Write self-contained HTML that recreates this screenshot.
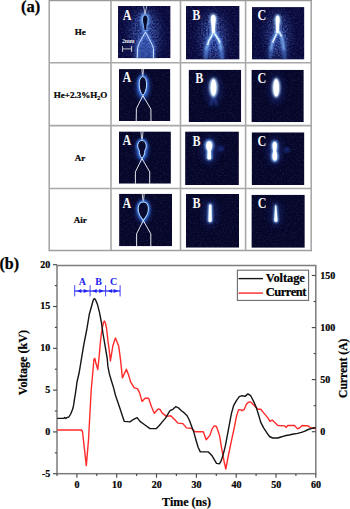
<!DOCTYPE html>
<html><head><meta charset="utf-8"><style>
html,body{margin:0;padding:0;background:#fff;width:350px;height:509px;overflow:hidden}
svg{display:block}
text{font-family:"Liberation Serif", serif;font-weight:bold}
</style></head><body>
<svg width="350" height="509" viewBox="0 0 350 509">
<defs>
<filter id="bh" x="-50%" y="-50%" width="200%" height="200%"><feGaussianBlur stdDeviation="0.5"/></filter>
<filter id="b1" x="-50%" y="-50%" width="200%" height="200%"><feGaussianBlur stdDeviation="1"/></filter>
<filter id="b2" x="-50%" y="-50%" width="200%" height="200%"><feGaussianBlur stdDeviation="2"/></filter>
<filter id="b3" x="-50%" y="-50%" width="200%" height="200%"><feGaussianBlur stdDeviation="3.5"/></filter>
<filter id="nz" x="0" y="0" width="100%" height="100%">
 <feTurbulence type="fractalNoise" baseFrequency="0.65" numOctaves="2" seed="7"/>
 <feColorMatrix type="matrix" values="0 0 0 0 0.18  0 0 0 0 0.26  0 0 0 0 0.8  3.2 0 0 0 -1.5"/>
</filter>
<filter id="nz2" x="0" y="0" width="100%" height="100%">
 <feTurbulence type="fractalNoise" baseFrequency="0.6" numOctaves="2" seed="11"/>
 <feColorMatrix type="matrix" values="0 0 0 0 0.3  0 0 0 0 0.45  0 0 0 0 1  2.6 0 0 0 -0.9"/>
</filter>
<filter id="b5" x="-80%" y="-80%" width="260%" height="260%"><feGaussianBlur stdDeviation="6"/></filter>
</defs>
<rect width="350" height="509" fill="#fff"/>

<text x="21" y="12.3" font-size="16.5" stroke="#000" stroke-width="0.25">(a)</text>
<g stroke="#a8a8a8" stroke-width="1.6" fill="none">
<line x1="49" y1="62.8" x2="311.5" y2="62.8"/>
<line x1="49" y1="125.6" x2="311.5" y2="125.6"/>
<line x1="49" y1="188.5" x2="311.5" y2="188.5"/>
<line x1="111" y1="0" x2="111" y2="250.5"/>
<line x1="180.5" y1="0" x2="180.5" y2="250.5"/>
<line x1="245.6" y1="0" x2="245.6" y2="250.5"/>
<line x1="49.2" y1="0" x2="49.2" y2="251.2"/>
<line x1="311.2" y1="0" x2="311.2" y2="251.2"/>
<line x1="49" y1="0.5" x2="312" y2="0.5" stroke="#999"/>
<line x1="49" y1="250.5" x2="312" y2="250.5" stroke="#a0a0a0" stroke-width="1.4"/>
</g>
<g font-size="9" text-anchor="middle" fill="#000" stroke="#000" stroke-width="0.22">
<text x="80.3" y="35.2">He</text>
<text x="80.5" y="97.8">He+2.3%H<tspan font-size="6" dy="1.8">2</tspan><tspan dy="-1.8">O</tspan></text>
<text x="79.9" y="160.5">Ar</text>
<text x="80.3" y="223.2">Air</text>
</g>
<clipPath id="c118_6"><rect x="118" y="6" width="52.599999999999994" height="52.2"/></clipPath>
<g clip-path="url(#c118_6)"><rect x="118" y="6" width="52.599999999999994" height="52.2" fill="#09093a"/>
<rect x="118" y="6" width="52.599999999999994" height="52.2" filter="url(#nz)" opacity="0.2"/>
<mask id="m118_6"><ellipse cx="145" cy="36" rx="11" ry="24" fill="#fff" filter="url(#b5)"/></mask>
<g mask="url(#m118_6)"><rect x="118" y="6" width="52.599999999999994" height="52.2" filter="url(#nz2)" opacity="1.0"/></g>

<ellipse cx="145" cy="36" rx="13" ry="26" fill="#1e3590" opacity="0.55" filter="url(#b5)"/>
<path d="M145,12 L145,32 L139,44 L137.5,48 L137,59 L153.5,59 L153.5,48 L152,44 L145.5,32" fill="#3a64c0" opacity="0.55" filter="url(#b2)"/>
<path d="M137.5,59 L137.5,48 L139,43.5 L145.5,32 L152,44 L153.5,48.5 L153.5,59" stroke="#6fa0ff" stroke-width="3.2" fill="none" opacity="0.55" filter="url(#b1)"/>
<path d="M145,13.5 C139.8,13.5 139.8,22 142.5,25 L143.2,32 L147.4,32 L147.8,25 C150.3,22 150.3,13.5 145,13.5 Z" fill="#4a80e0" filter="url(#b2)"/>
<path d="M145,14 C140.5,14 140.5,22 143,25 L143.8,31 L146.8,31 L147.2,25 C149.5,22 149.5,14 145,14 Z" fill="#8cc0ff" filter="url(#b1)"/>
<path d="M145.2,15.5 C142.5,15.5 142.6,21 143.8,24.5 L144.5,30 L146.2,30 L146.6,24.5 C148,21 148,15.5 145.2,15.5 Z" fill="#0a0c2c"/>
<path d="M143.4,5 L145,14 L146.9,5" stroke="#e8eef8" stroke-width="0.7" fill="none"/>
<path d="M137.2,59 L137.6,48 L139.1,43.3 L145.5,32 L151.9,44.2 L153.5,48.5 L153.5,59" stroke="#d8e8ff" stroke-width="0.9" fill="none"/>
<text x="121.9" y="43" font-size="6" fill="#e8e8e8" letter-spacing="-0.15">2mm</text>
<path d="M122.6,46 L122.6,52 M122.6,48.9 L131.6,48.9 M131.6,46 L131.6,52" stroke="#d8d8d8" stroke-width="0.9"/>

<text transform="translate(122.8,20.1) scale(0.89,1)" font-size="13.6" fill="#f6f6f6">A</text>
</g>
<clipPath id="c186_6"><rect x="186" y="6" width="53.599999999999994" height="53.6"/></clipPath>
<g clip-path="url(#c186_6)"><rect x="186" y="6" width="53.599999999999994" height="53.6" fill="#09093a"/>
<rect x="186" y="6" width="53.599999999999994" height="53.6" filter="url(#nz)" opacity="0.2"/>
<mask id="m186_6"><ellipse cx="213" cy="37" rx="10" ry="23" fill="#fff" filter="url(#b5)"/></mask>
<g mask="url(#m186_6)"><rect x="186" y="6" width="53.599999999999994" height="53.6" filter="url(#nz2)" opacity="0.8"/></g>

<ellipse cx="213" cy="36" rx="10" ry="22" fill="#2440a8" opacity="0.45" filter="url(#b5)"/>
<path d="M213,33 L208.5,41 L205.9,57 M214.5,33 L219.5,41 L221.9,59" stroke="#3f70d8" stroke-width="5" fill="none" opacity="0.6" filter="url(#b2)"/>
<path d="M213,33 L208.5,41 L206.2,50 M214.5,33 L219.5,41 L221.2,50" stroke="#8cc0ff" stroke-width="2.6" fill="none" filter="url(#b1)"/>
<path d="M206.4,49 L205.2,60 M221,49 L222.4,60" stroke="#6a9cf0" stroke-width="2.2" fill="none" opacity="0.7" filter="url(#b1)"/>
<path d="M213.2,33 L208.8,41 L207.6,45 M214.3,33 L219,40.5 L219.8,43" stroke="#e8f4ff" stroke-width="1.5" fill="none" filter="url(#bh)"/>
<path d="M213.3,13.8 C209.2,13.8 209.4,20 210.4,24 L211.2,34 L215.6,34 L216.2,24 C217.4,20 217.4,13.8 213.3,13.8 Z" fill="#9cccff" filter="url(#b1)"/>
<path d="M213.3,14.8 C210.5,14.8 210.6,20 211.4,24 L212,33 L214.8,33 L215.2,24 C216.1,20 216.1,14.8 213.3,14.8 Z" fill="#ffffff" filter="url(#bh)"/>

<text transform="translate(192.2,20.3) scale(0.89,1)" font-size="13.6" fill="#f6f6f6">B</text>
</g>
<clipPath id="c252_7"><rect x="252" y="7.1" width="52.39999999999998" height="52.5"/></clipPath>
<g clip-path="url(#c252_7)"><rect x="252" y="7.1" width="52.39999999999998" height="52.5" fill="#09093a"/>
<rect x="252" y="7.1" width="52.39999999999998" height="52.5" filter="url(#nz)" opacity="0.2"/>
<mask id="m252_7"><ellipse cx="278" cy="36" rx="9" ry="22" fill="#fff" filter="url(#b5)"/></mask>
<g mask="url(#m252_7)"><rect x="252" y="7.1" width="52.39999999999998" height="52.5" filter="url(#nz2)" opacity="0.7"/></g>

<ellipse cx="278" cy="34" rx="8" ry="20" fill="#2440a8" opacity="0.4" filter="url(#b5)"/>
<path d="M276.5,33 L272.5,41.4 L270.4,57 M279,31 L281.9,37.2 L285,59" stroke="#3f70d8" stroke-width="4.5" fill="none" opacity="0.5" filter="url(#b2)"/>
<path d="M276.5,33 L272.5,41.4 L270.8,50 M279,31 L281.9,37.2 L284,50" stroke="#8cc0ff" stroke-width="2.2" fill="none" filter="url(#b1)"/>
<path d="M270.9,49 L270,60 M283.8,49 L285.2,60" stroke="#6a9cf0" stroke-width="1.8" fill="none" opacity="0.55" filter="url(#b1)"/>
<path d="M276.8,33.5 L272.6,42.5 M279,31.5 L281.5,36.5" stroke="#e8f4ff" stroke-width="1.5" fill="none" filter="url(#bh)"/>
<path d="M277.7,14.5 C274,14.5 274.3,21 275,25 L275.2,34 L279.6,34 L280,25 C281.2,21 281.4,14.5 277.7,14.5 Z" fill="#9cccff" filter="url(#b1)"/>
<path d="M277.7,15.5 C275.3,15.5 275.5,21 276,25 L276.2,33 L278.8,33 L279.1,25 C280,21 280,15.5 277.7,15.5 Z" fill="#ffffff" filter="url(#bh)"/>

<text transform="translate(257.5,20.3) scale(0.89,1)" font-size="13.6" fill="#f6f6f6">C</text>
</g>
<clipPath id="c119_69"><rect x="119" y="69.1" width="51.400000000000006" height="51.900000000000006"/></clipPath>
<g clip-path="url(#c119_69)"><rect x="119" y="69.1" width="51.400000000000006" height="51.900000000000006" fill="#060628"/>
<rect x="119" y="69.1" width="51.400000000000006" height="51.900000000000006" filter="url(#nz)" opacity="0.13"/>

<ellipse cx="143" cy="87" rx="7" ry="13" fill="#2a56c0" opacity="0.7" filter="url(#b2)"/>
<path d="M141.2,62 L142.6,76.6 M143.9,62 L142.9,76.6" stroke="#eef2f8" stroke-width="0.85" fill="none"/>
<path d="M142.8,76.6 C137.5,77 138.5,92 142.9,95.3 C147.3,92 148.3,77 142.8,76.6 Z" stroke="#3f7ff0" stroke-width="3.2" fill="none" filter="url(#b1)"/>
<path d="M142.8,76.6 C137.5,77 138.5,92 142.9,95.3 C147.3,92 148.3,77 142.8,76.6 Z" stroke="#bfe0ff" stroke-width="1" fill="#090b30"/>
<path d="M142.9,95.6 L136.4,108.5 L136.2,122 M142.9,95.6 L150.9,109.1 L151,122" stroke="#eef2f8" stroke-width="0.95" fill="none"/>

<text transform="translate(122.5,82.4) scale(0.89,1)" font-size="13.6" fill="#f6f6f6">A</text>
</g>
<clipPath id="c188_69"><rect x="188.6" y="69.7" width="52.599999999999994" height="52.39999999999999"/></clipPath>
<g clip-path="url(#c188_69)"><rect x="188.6" y="69.7" width="52.599999999999994" height="52.39999999999999" fill="#060628"/>
<rect x="188.6" y="69.7" width="52.599999999999994" height="52.39999999999999" filter="url(#nz)" opacity="0.13"/>

<ellipse cx="213.5" cy="90" rx="7" ry="14" fill="#2545b0" opacity="0.5" filter="url(#b3)"/>
<path d="M213,97 L210,106 M214,97 L217,106" stroke="#3a60c8" stroke-width="1.6" opacity="0.55" filter="url(#b1)"/>
<ellipse cx="213.5" cy="87.5" rx="4.3" ry="9.8" fill="#bfe0ff" filter="url(#b1)"/>
<ellipse cx="213.5" cy="87.5" rx="2.8" ry="8.2" fill="#ffffff"/>

<text transform="translate(195.3,82.6) scale(0.89,1)" font-size="13.6" fill="#f6f6f6">B</text>
</g>
<clipPath id="c251_69"><rect x="251.4" y="69.8" width="52.400000000000006" height="52.400000000000006"/></clipPath>
<g clip-path="url(#c251_69)"><rect x="251.4" y="69.8" width="52.400000000000006" height="52.400000000000006" fill="#060628"/>
<rect x="251.4" y="69.8" width="52.400000000000006" height="52.400000000000006" filter="url(#nz)" opacity="0.13"/>

<ellipse cx="276.2" cy="89" rx="6" ry="14" fill="#2545b0" opacity="0.5" filter="url(#b3)"/>
<ellipse cx="276.2" cy="87.7" rx="4" ry="10" fill="#c8e6ff" filter="url(#b1)"/>
<ellipse cx="276.2" cy="87.7" rx="2.8" ry="8.8" fill="#ffffff"/>

<text transform="translate(257.5,82.6) scale(0.89,1)" font-size="13.6" fill="#f6f6f6">C</text>
</g>
<clipPath id="c119_131"><rect x="119" y="131.4" width="51.900000000000006" height="52.29999999999998"/></clipPath>
<g clip-path="url(#c119_131)"><rect x="119" y="131.4" width="51.900000000000006" height="52.29999999999998" fill="#060628"/>
<rect x="119" y="131.4" width="51.900000000000006" height="52.29999999999998" filter="url(#nz)" opacity="0.13"/>

<ellipse cx="142" cy="150" rx="6.5" ry="11" fill="#2a56c0" opacity="0.7" filter="url(#b2)"/>
<path d="M140.3,125 L141.8,140.5 M143.6,125 L142.2,140.5" stroke="#eef2f8" stroke-width="0.85" fill="none"/>
<path d="M141.9,140.5 C137.5,140.5 136.5,147 139.3,150.5 C139,153.5 140.5,157 142,158.2 C143.5,157 145,153.5 144.8,150.5 C147.5,147 146.3,140.5 141.9,140.5 Z" stroke="#3f7ff0" stroke-width="3" fill="none" filter="url(#b1)"/>
<path d="M141.9,140.5 C137.5,140.5 136.5,147 139.3,150.5 C139,153.5 140.5,157 142,158.2 C143.5,157 145,153.5 144.8,150.5 C147.5,147 146.3,140.5 141.9,140.5 Z" stroke="#bfe0ff" stroke-width="1" fill="#090b30"/>
<path d="M142,158.5 L135.4,171.9 L135.4,185 M142,158.5 L149.7,171.9 L149.7,185" stroke="#eef2f8" stroke-width="0.95" fill="none"/>

<text transform="translate(122.5,145.2) scale(0.89,1)" font-size="13.6" fill="#f6f6f6">A</text>
</g>
<clipPath id="c185_131"><rect x="185.1" y="131.4" width="53.80000000000001" height="53.69999999999999"/></clipPath>
<g clip-path="url(#c185_131)"><rect x="185.1" y="131.4" width="53.80000000000001" height="53.69999999999999" fill="#060628"/>
<rect x="185.1" y="131.4" width="53.80000000000001" height="53.69999999999999" filter="url(#nz)" opacity="0.13"/>

<ellipse cx="209.2" cy="150" rx="7" ry="13" fill="#2545b0" opacity="0.55" filter="url(#b3)"/>
<ellipse cx="221" cy="148.7" rx="3" ry="3" fill="#2545b0" opacity="0.5" filter="url(#b1)"/>
<path d="M209.2,139.8 C203.8,139.8 203.8,147.5 206.6,150.9 L206.2,158 C206.5,161.2 212,161.2 212.3,158 L211.8,150.9 C214.6,147.5 214.6,139.8 209.2,139.8 Z" fill="#7fb6ff" filter="url(#b1)"/>
<path d="M209.2,141.2 C205.4,141.2 205.4,147.5 207.6,150.7 L207.3,158 C207.6,160 210.9,160 211.2,158 L210.8,150.7 C213,147.5 213,141.2 209.2,141.2 Z" fill="#ffffff" filter="url(#bh)"/>

<text transform="translate(192.5,145.5) scale(0.89,1)" font-size="13.6" fill="#f6f6f6">B</text>
</g>
<clipPath id="c251_132"><rect x="251.6" y="132.3" width="52.79999999999998" height="52.79999999999998"/></clipPath>
<g clip-path="url(#c251_132)"><rect x="251.6" y="132.3" width="52.79999999999998" height="52.79999999999998" fill="#060628"/>
<rect x="251.6" y="132.3" width="52.79999999999998" height="52.79999999999998" filter="url(#nz)" opacity="0.13"/>

<ellipse cx="274.7" cy="151" rx="6.5" ry="13" fill="#2545b0" opacity="0.5" filter="url(#b3)"/>
<ellipse cx="287" cy="149.7" rx="3" ry="3" fill="#2545b0" opacity="0.45" filter="url(#b1)"/>
<path d="M274.7,140.4 C270.6,140.4 270.8,147 272.2,151.2 C270.3,154.5 270.5,162.2 274.9,162.2 C279.3,162.2 279.3,154.5 277.3,151.2 C278.7,147 278.8,140.4 274.7,140.4 Z" fill="#7fb6ff" filter="url(#b1)"/>
<path d="M274.7,141.8 C272,141.8 272.2,147 273.3,151.2 C271.8,154.5 272.1,160.8 274.9,160.8 C277.7,160.8 277.9,154.5 276.2,151.2 C277.3,147 277.4,141.8 274.7,141.8 Z" fill="#ffffff" filter="url(#bh)"/>

<text transform="translate(257.5,145.7) scale(0.89,1)" font-size="13.6" fill="#f6f6f6">C</text>
</g>
<clipPath id="c119_193"><rect x="119.1" y="193.7" width="52.900000000000006" height="52.60000000000002"/></clipPath>
<g clip-path="url(#c119_193)"><rect x="119.1" y="193.7" width="52.900000000000006" height="52.60000000000002" fill="#060628"/>
<rect x="119.1" y="193.7" width="52.900000000000006" height="52.60000000000002" filter="url(#nz)" opacity="0.13"/>

<ellipse cx="143.3" cy="211" rx="8" ry="12" fill="#2a56c0" opacity="0.5" filter="url(#b2)"/>
<path d="M141.6,188 L143.1,202 M144.6,188 L143.5,202" stroke="#eef2f8" stroke-width="0.85" fill="none"/>
<path d="M143.3,202 C138.3,202 137.6,208 138.4,211.5 C139.1,214.8 140.8,217.3 142,218.6 L143.3,220.3 L144.6,218.6 C145.8,217.3 147.5,214.8 148.2,211.5 C149,208 148.3,202 143.3,202 Z" stroke="#3f7ff0" stroke-width="3" fill="none" filter="url(#b1)"/>
<path d="M143.3,202 C138.3,202 137.6,208 138.4,211.5 C139.1,214.8 140.8,217.3 142,218.6 L143.3,220.3 L144.6,218.6 C145.8,217.3 147.5,214.8 148.2,211.5 C149,208 148.3,202 143.3,202 Z" stroke="#a8d4ff" stroke-width="1.1" fill="#090b30"/>
<path d="M143.3,220.5 L136.6,233.9 L136.6,247 M143.3,220.5 L150.8,233.9 L150.8,247" stroke="#eef2f8" stroke-width="0.95" fill="none"/>

<text transform="translate(122.5,207.8) scale(0.89,1)" font-size="13.6" fill="#f6f6f6">A</text>
</g>
<clipPath id="c185_193"><rect x="185.9" y="193.9" width="53.099999999999994" height="53.79999999999998"/></clipPath>
<g clip-path="url(#c185_193)"><rect x="185.9" y="193.9" width="53.099999999999994" height="53.79999999999998" fill="#060628"/>
<rect x="185.9" y="193.9" width="53.099999999999994" height="53.79999999999998" filter="url(#nz)" opacity="0.13"/>

<ellipse cx="210" cy="213" rx="6" ry="13" fill="#2545b0" opacity="0.45" filter="url(#b3)"/>
<path d="M208.2,204.8 C208.2,203.2 212.2,203.2 212.2,204.8 L212.6,220.5 C212.6,223.6 207.6,223.6 207.6,220.5 Z" fill="#7fb6ff" filter="url(#b1)"/>
<path d="M208.9,205.4 C208.9,204.2 211.5,204.2 211.5,205.4 L211.8,220.4 C211.8,222.4 208.4,222.4 208.4,220.4 Z" fill="#ffffff" filter="url(#bh)"/>

<text transform="translate(192.5,208.1) scale(0.89,1)" font-size="13.6" fill="#f6f6f6">B</text>
</g>
<clipPath id="c251_194"><rect x="251.4" y="194.7" width="53.400000000000006" height="53.10000000000002"/></clipPath>
<g clip-path="url(#c251_194)"><rect x="251.4" y="194.7" width="53.400000000000006" height="53.10000000000002" fill="#060628"/>
<rect x="251.4" y="194.7" width="53.400000000000006" height="53.10000000000002" filter="url(#nz)" opacity="0.13"/>

<ellipse cx="275.8" cy="214" rx="5.5" ry="12" fill="#2545b0" opacity="0.4" filter="url(#b3)"/>
<path d="M274.5,205.5 C274.5,203.8 277,203.8 277,205.5 L278.4,220.5 C278.4,223.6 273.4,223.6 273.4,220.5 Z" fill="#7fb6ff" filter="url(#b1)"/>
<path d="M275.1,206 C275.1,205 276.4,205 276.4,206 L277.6,220.5 C277.6,222.4 274.2,222.4 274.2,220.5 Z" fill="#f4faff" filter="url(#bh)"/>

<text transform="translate(257.8,208.4) scale(0.89,1)" font-size="13.6" fill="#f6f6f6">C</text>
</g>
<text x="-0.5" y="268.6" font-size="16" stroke="#000" stroke-width="0.25">(b)</text>
<g stroke="#4a4a4a" stroke-width="1.15" fill="none">
<rect x="57.0" y="265.5" width="258.8" height="208.2" stroke="#7c7c7c" stroke-width="1.5"/>
<line x1="53.0" y1="473.7" x2="57.0" y2="473.7"/>
<line x1="53.0" y1="431.9" x2="57.0" y2="431.9"/>
<line x1="53.0" y1="390.1" x2="57.0" y2="390.1"/>
<line x1="53.0" y1="348.3" x2="57.0" y2="348.3"/>
<line x1="53.0" y1="306.5" x2="57.0" y2="306.5"/>
<line x1="53.0" y1="264.7" x2="57.0" y2="264.7"/>
<line x1="54.8" y1="452.8" x2="57.0" y2="452.8"/>
<line x1="54.8" y1="411.0" x2="57.0" y2="411.0"/>
<line x1="54.8" y1="369.2" x2="57.0" y2="369.2"/>
<line x1="54.8" y1="327.4" x2="57.0" y2="327.4"/>
<line x1="54.8" y1="285.6" x2="57.0" y2="285.6"/>
<line x1="76.9" y1="473.7" x2="76.9" y2="477.7"/>
<line x1="116.7" y1="473.7" x2="116.7" y2="477.7"/>
<line x1="156.5" y1="473.7" x2="156.5" y2="477.7"/>
<line x1="196.4" y1="473.7" x2="196.4" y2="477.7"/>
<line x1="236.2" y1="473.7" x2="236.2" y2="477.7"/>
<line x1="276.0" y1="473.7" x2="276.0" y2="477.7"/>
<line x1="315.8" y1="473.7" x2="315.8" y2="477.7"/>
<line x1="57.0" y1="473.7" x2="57.0" y2="475.9"/>
<line x1="96.8" y1="473.7" x2="96.8" y2="475.9"/>
<line x1="136.6" y1="473.7" x2="136.6" y2="475.9"/>
<line x1="176.4" y1="473.7" x2="176.4" y2="475.9"/>
<line x1="216.3" y1="473.7" x2="216.3" y2="475.9"/>
<line x1="256.1" y1="473.7" x2="256.1" y2="475.9"/>
<line x1="295.9" y1="473.7" x2="295.9" y2="475.9"/>
<line x1="311.8" y1="431.7" x2="315.8" y2="431.7"/>
<line x1="311.8" y1="379.6" x2="315.8" y2="379.6"/>
<line x1="311.8" y1="327.6" x2="315.8" y2="327.6"/>
<line x1="311.8" y1="275.5" x2="315.8" y2="275.5"/>
<line x1="313.6" y1="405.7" x2="315.8" y2="405.7"/>
<line x1="313.6" y1="353.6" x2="315.8" y2="353.6"/>
<line x1="313.6" y1="301.5" x2="315.8" y2="301.5"/>
</g>
<g font-size="10" fill="#000" stroke="#000" stroke-width="0.22" text-anchor="end">
<text x="50.3" y="476.6">-5</text>
<text x="50.3" y="434.8">0</text>
<text x="50.3" y="393.0">5</text>
<text x="50.3" y="351.2">10</text>
<text x="50.3" y="309.4">15</text>
<text x="50.3" y="267.6">20</text>
</g>
<g font-size="10" fill="#000" stroke="#000" stroke-width="0.22" text-anchor="start">
<text x="320.3" y="435.0">0</text>
<text x="320.3" y="382.9">50</text>
<text x="320.3" y="330.9">100</text>
<text x="320.3" y="278.8">150</text>
</g>
<g font-size="10" fill="#000" stroke="#000" stroke-width="0.22" text-anchor="middle">
<text x="77.1" y="488.3">0</text>
<text x="116.9" y="488.3">10</text>
<text x="156.7" y="488.3">20</text>
<text x="196.6" y="488.3">30</text>
<text x="236.4" y="488.3">40</text>
<text x="276.2" y="488.3">50</text>
<text x="316.0" y="488.3">60</text>
</g>
<text x="186.5" y="505.6" font-size="12" text-anchor="middle" fill="#000" stroke="#000" stroke-width="0.22">Time (ns)</text>
<text transform="translate(27.3,362.6) rotate(-90)" font-size="12.1" text-anchor="middle" fill="#000" stroke="#000" stroke-width="0.22">Voltage (kV)</text>
<text transform="translate(347.4,368.3) rotate(-90)" font-size="11.6" text-anchor="middle" fill="#000" stroke="#000" stroke-width="0.22">Current (A)</text>
<polyline points="57.2,430.0 81.5,430.0 82.5,431.5 86.3,465.6 88.5,440.0 91.2,390.0 92.7,373.7 93.9,359.5 94.8,358.3 95.9,363.0 97.8,369.5 99.2,356.0 100.4,341.8 101.6,332.0 102.5,327.0 103.5,322.5 104.4,321.1 105.4,323.0 106.5,328.0 107.9,340.4 109.2,350.0 110.4,361.0 112.9,345.7 115.4,337.9 118.6,345.7 120.4,358.6 122.4,377.9 126.4,369.3 128.6,375.0 130.7,382.1 134.3,387.9 137.4,388.6 139.3,392.1 142.1,401.4 145.0,398.3 148.6,398.3 151.4,406.4 154.3,413.3 157.9,409.3 160.0,409.3 162.1,412.9 166.4,416.4 170.7,415.7 173.6,418.6 177.9,423.1 182.9,423.6 186.4,427.9 191.4,428.3 195.0,431.7 203.3,431.7 206.2,439.8 209.9,435.4 212.1,428.8 214.3,425.8 216.5,426.5 219.5,435.4 221.7,448.7 223.9,460.5 225.8,469.0 228.3,456.0 231.3,441.3 234.2,428.0 236.5,416.2 238.6,409.6 241.4,410.0 242.1,410.7 244.3,409.3 246.4,404.3 248.6,402.1 250.7,401.9 252.9,404.3 255.7,407.1 257.9,409.3 260.7,409.3 264.3,413.6 267.9,417.9 270.0,421.4 272.1,420.0 274.8,422.4 277.9,425.5 284.7,425.9 286.2,427.4 287.7,425.5 294.5,425.5 297.6,428.9 299.8,427.7 302.1,425.5 308.2,425.9 310.5,427.7 313.5,428.0 315.7,428.9" fill="none" stroke="#ff2a2a" stroke-width="1.4" stroke-linejoin="round"/>
<polyline points="57.2,418.4 63.6,418.4 64.6,417.4 65.8,418.6 66.8,417.6 68.8,417.0 70.7,414.0 72.7,409.1 73.7,404.7 74.4,399.7 75.2,394.8 76.1,388.9 77.0,382.0 79.2,372.5 81.5,358.3 83.9,344.2 86.7,330.0 89.3,314.3 91.9,305.0 93.2,300.2 94.2,298.6 95.3,299.3 97.5,304.6 99.6,312.9 101.4,322.5 103.0,333.5 105.1,345.9 107.2,358.3 107.9,366.4 109.3,373.6 111.4,380.7 113.6,387.9 115.4,395.0 116.4,397.9 119.3,406.4 122.1,415.0 124.3,421.4 130.0,421.9 133.6,419.3 137.1,417.6 140.0,421.4 145.0,425.0 150.0,428.6 156.4,428.6 159.3,425.5 162.1,422.1 165.7,417.9 168.6,412.9 170.0,410.7 172.9,409.3 175.7,406.7 178.6,407.9 181.4,410.7 184.3,412.9 187.1,415.7 189.3,420.0 191.4,425.7 193.6,431.4 195.9,439.8 198.1,447.2 200.3,451.9 208.4,451.9 212.1,455.8 214.3,459.7 216.5,463.4 219.5,463.7 221.0,461.2 223.2,454.6 225.4,445.7 227.6,433.9 229.8,422.1 231.4,413.6 233.6,405.7 236.4,400.7 239.3,396.7 242.1,395.7 245.0,396.4 247.9,393.9 250.7,395.7 253.6,401.4 256.4,407.9 258.6,415.0 260.7,422.1 263.6,427.9 267.1,433.2 269.5,436.5 272.6,438.0 277.9,438.0 280.9,437.0 284.7,435.8 289.2,435.0 292.3,434.2 297.6,433.4 301.4,432.3 304.4,431.3 308.2,429.5 312.7,428.2 315.7,427.5" fill="none" stroke="#151515" stroke-width="1.4" stroke-linejoin="round"/>
<rect x="237.4" y="270.2" width="71.2" height="30.2" fill="#fff" stroke="#6a6a6a" stroke-width="1.1"/>
<line x1="238.5" y1="278.6" x2="263" y2="278.6" stroke="#151515" stroke-width="1.4"/>
<line x1="238.5" y1="293.1" x2="263" y2="293.1" stroke="#ff2a2a" stroke-width="1.4"/>
<text x="265.7" y="282.2" font-size="12.5" fill="#000" stroke="#000" stroke-width="0.22" letter-spacing="-0.1">Voltage</text>
<text x="265.7" y="296.4" font-size="12.5" fill="#000" stroke="#000" stroke-width="0.22" letter-spacing="-0.45">Current</text>
<g stroke="#2020f0" stroke-width="1" fill="#2020f0">
<line x1="74.7" y1="285.2" x2="74.7" y2="296.4" stroke="#3838ff" stroke-width="0.95"/>
<line x1="90.1" y1="285.2" x2="90.1" y2="296.4" stroke="#3838ff" stroke-width="0.95"/>
<line x1="105.6" y1="285.2" x2="105.6" y2="296.4" stroke="#3838ff" stroke-width="0.95"/>
<line x1="120.1" y1="285.2" x2="120.1" y2="296.4" stroke="#3838ff" stroke-width="0.95"/>
<line x1="74.7" y1="291.0" x2="90.1" y2="291.0" stroke-width="1.2"/>
<path d="M76.9,291.0 L81.3,288.9 L81.3,293.1 Z" stroke="none"/>
<path d="M88.3,291.0 L83.69999999999999,288.9 L83.69999999999999,293.1 Z" stroke="none"/>
<line x1="90.1" y1="291.0" x2="105.6" y2="291.0" stroke-width="1.2"/>
<path d="M92.3,291.0 L96.69999999999999,288.9 L96.69999999999999,293.1 Z" stroke="none"/>
<path d="M103.8,291.0 L99.19999999999999,288.9 L99.19999999999999,293.1 Z" stroke="none"/>
<line x1="105.6" y1="291.0" x2="120.1" y2="291.0" stroke-width="1.2"/>
<path d="M107.8,291.0 L112.19999999999999,288.9 L112.19999999999999,293.1 Z" stroke="none"/>
<path d="M118.3,291.0 L113.69999999999999,288.9 L113.69999999999999,293.1 Z" stroke="none"/>
</g>
<g font-size="10" fill="#2020f0" text-anchor="middle">
<text x="82.3" y="284.6">A</text><text x="98.6" y="284.6">B</text><text x="113.6" y="284.6">C</text>
</g>
</svg></body></html>
